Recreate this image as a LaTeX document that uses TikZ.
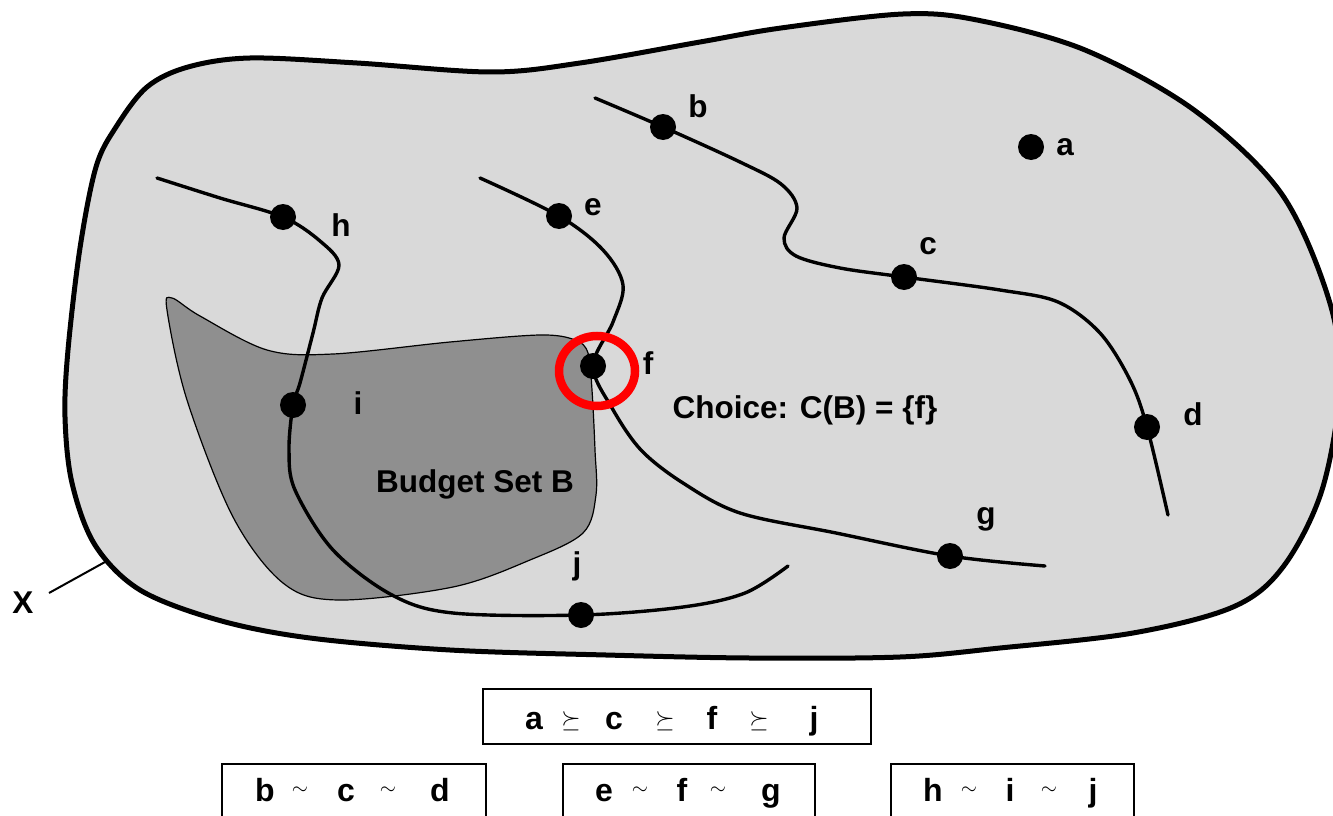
\documentclass[tikz,border=0pt]{standalone}
\usepackage{fontspec}
\setmainfont{Liberation Sans}
\definecolor{setgray}{RGB}{217,217,217}
\definecolor{budgetgray}{RGB}{143,143,143}
\definecolor{ringred}{RGB}{255,0,0}
\begin{document}
\begin{tikzpicture}[x=1pt,y=-1pt,
  dot/.style={circle,fill=black,inner sep=0pt,minimum size=26pt},
  lbl/.style={font=\fontsize{31.5}{36}\selectfont\bfseries,inner sep=0pt,anchor=base},
  boxlbl/.style={font=\fontsize{32}{38}\selectfont\bfseries,inner sep=0pt,anchor=base},
  relsym/.style={font=\fontsize{25}{30}\selectfont,inner sep=0pt},
  simsym/.style={font=\fontsize{20}{24}\selectfont,inner sep=0pt},
  curve/.style={line width=3.4pt,line cap=round},
  box/.style={draw=black,line width=2pt,inner sep=0pt,fill=white}]
\useasboundingbox (0,0) rectangle (1333,816);

% outer set X
\draw[line width=5pt,fill=setgray] plot[smooth cycle,tension=0.55] coordinates {
 (80,248) (96,167) (116,127) (147,87) (188,67) (250,58) (357,63) (491,72)
 (580,63) (700,42) (781,28) (903,14) (977,20) (1085,50) (1194,110) (1281,193)
 (1329,300) (1340,385) (1322,490) (1283,567) (1233,607) (1133,633) (1000,648)
 (900,657) (750,658) (606,655) (450,650) (310,638) (218,620)
 (140,590) (95,545) (72,483) (65,417) (68,350)};

% budget set B
\draw[line width=1.2pt,fill=budgetgray] plot[smooth cycle,tension=0.55] coordinates {
 (172,298) (200,316) (267,350) (333,354) (450,342) (540,335) (575,340) (588,353)
 (592,390) (595,450) (596,495) (583,533) (530,560) (453,587) (338,600) (283,583)
 (233,517) (187,400) (167,310)};

% point coordinates
\coordinate (pa) at (1031,147);
\coordinate (pb) at (663,127);
\coordinate (pc) at (904,277);
\coordinate (pd) at (1147,427);
\coordinate (pe) at (559,216);
\coordinate (pf) at (593,366);
\coordinate (pg) at (950,556);
\coordinate (ph) at (283,217);
\coordinate (pi) at (293,405);
\coordinate (pj) at (581,615);

% indifference curves
\draw[curve] plot[smooth,tension=0.55] coordinates {
 (595,98) (pb) (740,162) (781,184) (797,208) (784,238) (796,256) (840,268) (pc)
 (1000,290) (1058,302) (1100,333) (1130,380) (pd) (1168,515)};
\draw[curve] plot[smooth,tension=0.55] coordinates {
 (480,178) (pe) (603,250) (623,285) (613,322) (pf) (612,408) (641,450) (683,483)
 (740,513) (836,533) (pg) (1045,566)};
\draw[curve] plot[smooth,tension=0.55] coordinates {
 (157,178) (220,198) (ph) (320,241) (339,265) (322,298) (313,333) (300,383) (pi)
 (289,450) (295,490) (333,550) (392,595) (453,613) (pj) (683,607) (745,593) (788,566)};

% dots
\foreach \p in {a,b,c,d,e,f,g,h,i,j}{\node[dot] (d\p) at (p\p) {};}

% choice ring
\draw[ringred,line width=8.5pt] (597,371) ellipse [x radius=38,y radius=35];

% labels
\node[lbl] (la) at (1065,155) {a};
\node[lbl] (lb) at (698,117) {b};
\node[lbl] (lc) at (928,254) {c};
\node[lbl] (ld) at (1193,425) {d};
\node[lbl] (le) at (593,215) {e};
\node[lbl] (lf) at (648,374) {f};
\node[lbl] (lg) at (986,524) {g};
\node[lbl] (lh) at (341,236) {h};
\node[lbl] (li) at (358,414) {i};
\node[lbl] (lj) at (577,574) {j};
\node[lbl] (choice) at (805,418) {Choice: C(B) = \{f\}};
\node[lbl] (budget) at (475,492) {Budget Set B};
\node[lbl] (X) at (23,613) {X};
\coordinate (xt) at (49,593);
\coordinate (xb) at (105,562);
\draw[line width=2pt] (xt) -- (xb);

% preference boxes
\node[box,minimum width=388pt,minimum height=55pt] (pref) at (677,716.5) {};
\node[boxlbl] (pa1) at (534,729) {a};
\node[relsym] (s1) at (571,721) {$\succeq$};
\node[boxlbl] (pc1) at (614,729) {c};
\node[relsym] (s2) at (665,721) {$\succeq$};
\node[boxlbl] (pf1) at (712,729) {f};
\node[relsym] (s3) at (759,721) {$\succeq$};
\node[boxlbl] (pj1) at (814,729) {j};

\node[box,minimum width=264pt,minimum height=70pt] (bcd) at (354,799) {};
\node[boxlbl] (b2) at (265,801) {b};
\node[simsym] (t1) at (300,791) {$\sim$};
\node[boxlbl] (c2) at (346,801) {c};
\node[simsym] (t2) at (388,791) {$\sim$};
\node[boxlbl] (d2) at (440,801) {d};

\node[box,minimum width=252pt,minimum height=70pt] (efg) at (689,799) {};
\node[boxlbl] (e2) at (604,801) {e};
\node[simsym] (t3) at (640,791) {$\sim$};
\node[boxlbl] (f2) at (682,801) {f};
\node[simsym] (t4) at (718,791) {$\sim$};
\node[boxlbl] (g2) at (771,801) {g};

\node[box,minimum width=243pt,minimum height=70pt] (hij) at (1012.5,799) {};
\node[boxlbl] (h2) at (933,801) {h};
\node[simsym] (t5) at (969,791) {$\sim$};
\node[boxlbl] (i2) at (1010,801) {i};
\node[simsym] (t6) at (1049,791) {$\sim$};
\node[boxlbl] (j2) at (1093,801) {j};
\end{tikzpicture}
\end{document}
